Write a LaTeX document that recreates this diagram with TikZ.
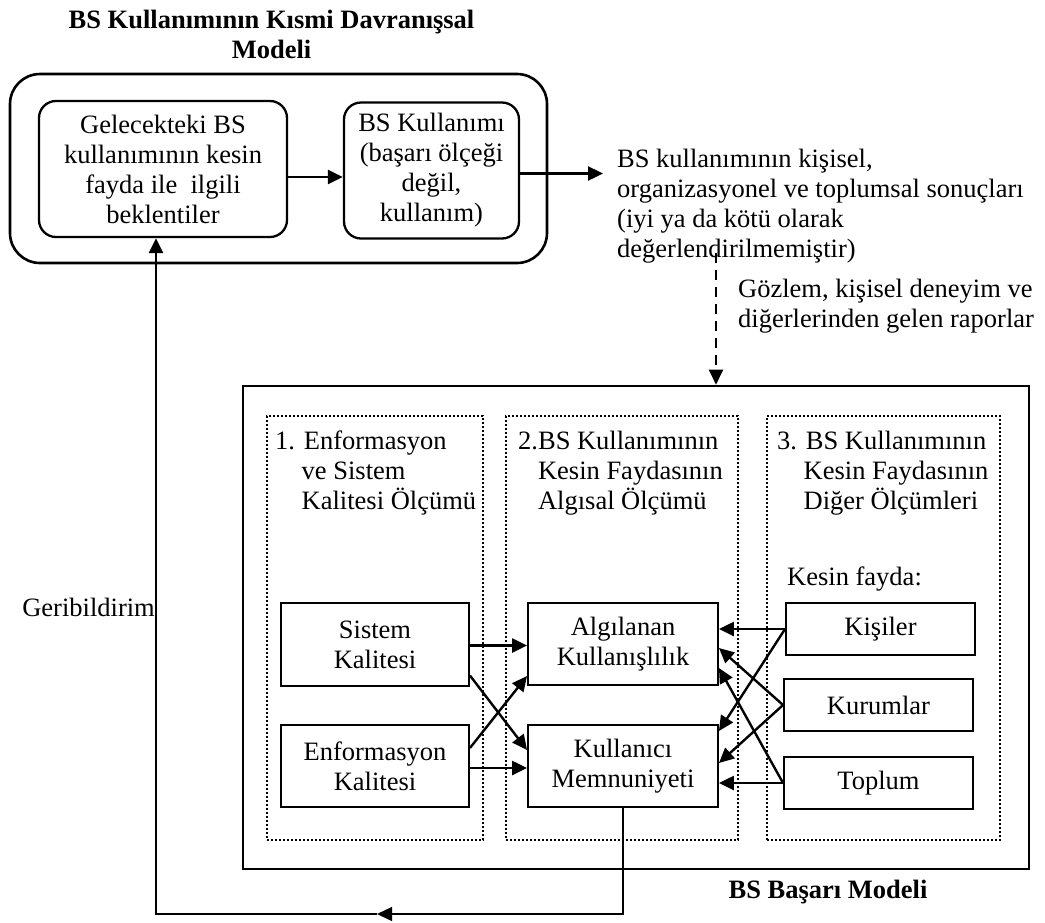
\documentclass[tikz,border=0pt]{standalone}
\usepackage{fontspec}
\setmainfont{Liberation Serif}
\usetikzlibrary{arrows.meta,calc}
\newcommand\figtxt{\fontsize{26.5pt}{30pt}\selectfont}
\begin{document}
\begin{tikzpicture}[x=1pt,y=-1pt,
  every node/.style={font=\figtxt, inner sep=0pt},
  rbox/.style={draw, line width=2.3pt, rounded corners=17pt, align=center},
  sbox/.style={draw, line width=1.9pt, align=center},
  frame/.style={draw, line width=2.6pt},
  dotbox/.style={draw, line width=2.1pt, dash pattern=on 2pt off 2pt},
  tip/.style={-{Triangle[length=15pt,width=14pt]}},
  arr/.style={line width=2.4pt, tip},
  thinline/.style={line width=1.3pt},
  lbl/.style={align=left}]
\useasboundingbox (0,0) rectangle (1045,922);

% ---- behavioural model (top) ----
\node[font=\figtxt\bfseries, align=center, anchor=north] (title) at (271.5,10)
  {BS Kullanımının Kısmi Davranışsal\\Modeli};
\node[frame, rounded corners=30pt, minimum width=537pt, minimum height=189pt] (outer) at (278.5,168.5) {};
\node[rbox, minimum width=248pt, minimum height=136pt] (ge) at (163,169)
  {Gelecekteki BS\\kullanımının kesin\\fayda ile\ \ ilgili\\beklentiler};
\node[rbox, minimum width=175pt, minimum height=136pt] (bk) at (431.5,170.5)
  {BS Kullanımı\\(başarı ölçeği\\değil,\\kullanım)};
\draw[arr] ([yshift=-8pt]ge.east) -- ([yshift=-8pt]ge.east -| bk.west);

\node[lbl, anchor=north west] (res) at (617,149)
  {BS kullanımının kişisel,\\organizasyonel ve toplumsal sonuçları\\(iyi ya da kötü olarak\\değerlendirilmemiştir)};
\draw[arr] ([yshift=-3pt]bk.east) -- ([yshift=-3pt,xshift=-14pt]bk.east -| res.west);

\node[lbl, anchor=north west] (goz) at (738,279)
  {Gözlem, kişisel deneyim ve\\diğerlerinden gelen raporlar};

% ---- success model (bottom) ----
\node[frame, minimum width=786pt, minimum height=483pt] (big) at (636,627.5) {};
\node[dotbox, minimum width=216pt, minimum height=424pt] (d1) at (375,628) {};
\node[dotbox, minimum width=232pt, minimum height=424pt] (d2) at (622,628) {};
\node[dotbox, minimum width=233pt, minimum height=424pt] (d3) at (883.5,628) {};

\coordinate (dtop) at (716,253);
\draw[arr, line width=2.2pt, dash pattern=on 10pt off 7pt] (dtop) -- (dtop |- big.north);

\node[lbl, anchor=north west] (h1) at (275,431)
  {1. Enformasyon\\\hphantom{1.\ }ve Sistem\\\hphantom{1.\ }Kalitesi Ölçümü};
\node[lbl, anchor=north west] (h2) at (518,431)
  {2.BS Kullanımının\\\hphantom{2.}Kesin Faydasının\\\hphantom{2.}Algısal Ölçümü};
\node[lbl, anchor=north west] (h3) at (777,431)
  {3. BS Kullanımının\\\hphantom{3.\ }Kesin Faydasının\\\hphantom{3.\ }Diğer Ölçümleri};
\node[anchor=north west] (kf) at (787,567) {Kesin fayda:};

\node[sbox, minimum width=188pt, minimum height=83pt] (sk) at (375,644.5) {Sistem\\Kalitesi};
\node[sbox, minimum width=188pt, minimum height=82pt] (enf) at (375,766) {Enformasyon\\Kalitesi};
\node[sbox, minimum width=190pt, minimum height=82pt] (al) at (623,644) {Algılanan\\Kullanışlılık};
\node[sbox, minimum width=190pt, minimum height=82pt] (kul) at (623,766) {Kullanıcı\\Memnuniyeti};
\node[sbox, minimum width=189pt, minimum height=52pt] (ki) at (880.5,629) {Kişiler};
\node[sbox, minimum width=189pt, minimum height=52pt] (ku) at (878.5,705) {Kurumlar};
\node[sbox, minimum width=189pt, minimum height=52pt] (to) at (878.5,783) {Toplum};

% quality measures -> perceived measures
\draw[arr] ([yshift=-1pt]sk.east) -- ([yshift=-1pt]sk.east -| al.west);
\draw[arr] ([yshift=-2pt]enf.east) -- ([yshift=-2pt]enf.east -| kul.west);
\draw[arr] ([yshift=-31pt]sk.east) -- ([yshift=16pt]kul.west);
\draw[arr] ([yshift=18pt]enf.east) -- ([yshift=-32pt]al.west);

% net benefits -> perceived measures
\draw[arr] (ki.west) -- (ki.west -| al.east);
\draw[arr] (ki.west) -- ([yshift=35pt]kul.east);
\draw[arr] (ku.west) -- ([yshift=-4pt]al.east);
\draw[arr] (ku.west) -- ([yshift=3pt]kul.east);
\draw[arr] (to.west) -- ([yshift=-24pt]al.east);
\draw[arr] (to.west) -- (to.west -| kul.east);

\node[font=\figtxt\bfseries, anchor=base] (basari) at (828,898) {BS Başarı Modeli};

% feedback loop
\coordinate (fbmid) at (377,914);
\coordinate (fbcorner) at (156,914);
\draw[thinline, tip] (kul.south) |- (fbmid);
\draw[arr] (fbmid) -- (fbcorner) -- (fbcorner |- ge.south);
\node[anchor=base east] (geri) at (155,616) {Geribildirim};
\end{tikzpicture}
\end{document}
